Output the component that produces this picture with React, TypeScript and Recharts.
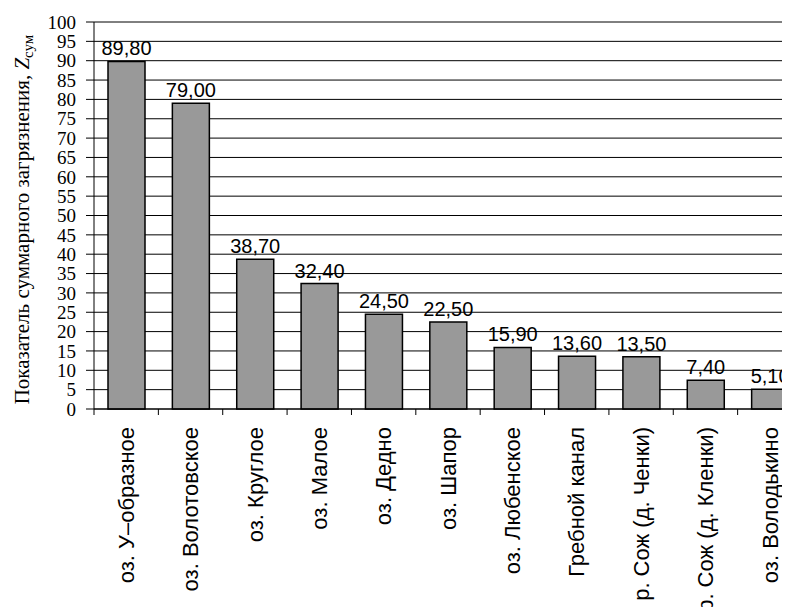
import React from "react";
import { BarChart, Bar, XAxis, YAxis, CartesianGrid, LabelList, Label } from "recharts";

const categories = [
  "оз. У–образное",
  "оз. Волотовское",
  "оз. Круглое",
  "оз. Малое",
  "оз. Дедно",
  "оз. Шапор",
  "оз. Любенское",
  "Гребной канал",
  "р. Сож (д. Ченки)",
  "р. Сож (д. Кленки)",
  "оз. Володькино",
];

const values = [89.8, 79.0, 38.7, 32.4, 24.5, 22.5, 15.9, 13.6, 13.5, 7.4, 5.1];

const yTicks = [0, 5, 10, 15, 20, 25, 30, 35, 40, 45, 50, 55, 60, 65, 70, 75, 80, 85, 90, 95, 100];

const data = categories.map((name, i) => ({ name, value: values[i] }));

const SANS = "'Liberation Sans', Arial, sans-serif";
const SERIF = "'Liberation Serif', 'Times New Roman', serif";

const formatValue = (v: number) => v.toFixed(2).replace(".", ",");

// Category label plus tick marks on the category boundaries
const CategoryTick = (props: any) => {
  const { x, y, payload, width, visibleTicksCount, index } = props;
  const half =
    payload && typeof payload.offset === "number" && payload.offset > 0
      ? payload.offset
      : width / (visibleTicksCount || categories.length) / 2;
  const last = index === (visibleTicksCount || categories.length) - 1;
  return (
    <g>
      <line x1={x - half} x2={x - half} y1={y} y2={y + 6} stroke="#000" strokeWidth={1} />
      {last && <line x1={x + half} x2={x + half} y1={y} y2={y + 6} stroke="#000" strokeWidth={1} />}
      <text
        x={0}
        y={0}
        transform={`translate(${x},${y + 18}) rotate(-90)`}
        textAnchor="end"
        dy="0.35em"
        fontFamily={SANS}
        fontSize={22}
        fill="#000"
      >
        {payload.value}
      </text>
    </g>
  );
};

const YTitle = (props: any) => {
  const vb = props.viewBox || {};
  const cy = (vb.y ?? 0) + (vb.height ?? 0) / 2 + 4;
  return (
    <text
      x={0}
      y={0}
      transform={`translate(14,${cy}) rotate(-90)`}
      textAnchor="middle"
      dy="0.35em"
      fontFamily={SERIF}
      fontSize={21}
      fill="#000"
    >
      Показатель суммарного загрязнения,{" "}
      <tspan fontStyle="italic">Z</tspan>
      <tspan fontSize={15} dy="4">сум</tspan>
    </text>
  );
};

export default function App() {
  return (
    <BarChart
      width={800}
      height={599}
      data={data}
      margin={{ top: 14, right: 6, bottom: 0, left: 0 }}
      barCategoryGap={0}
    >
      <CartesianGrid horizontal vertical={false} stroke="#000" strokeWidth={1} />
      <XAxis
        dataKey="name"
        interval={0}
        tickLine={false}
        tickSize={0}
        tickMargin={0}
        axisLine={{ stroke: "#000", strokeWidth: 1 }}
        tick={<CategoryTick />}
        height={198}
      />
      <YAxis
        domain={[0, 100]}
        ticks={yTicks}
        interval={0}
        width={86}
        tickSize={8}
        tickMargin={10}
        axisLine={{ stroke: "#000", strokeWidth: 1 }}
        tickLine={{ stroke: "#000", strokeWidth: 1 }}
        tick={{ fill: "#000", fontFamily: SERIF, fontSize: 19 }}
      >
        <Label content={<YTitle />} />
      </YAxis>
      <Bar
        dataKey="value"
        fill="#999999"
        stroke="#000"
        strokeWidth={1.5}
        barSize={37}
        isAnimationActive={false}
      >
        <LabelList
          dataKey="value"
          position="top"
          offset={6}
          formatter={(v: any) => formatValue(Number(v))}
          fill="#000"
          fontFamily={SANS}
          fontSize={20}
        />
      </Bar>
    </BarChart>
  );
}
